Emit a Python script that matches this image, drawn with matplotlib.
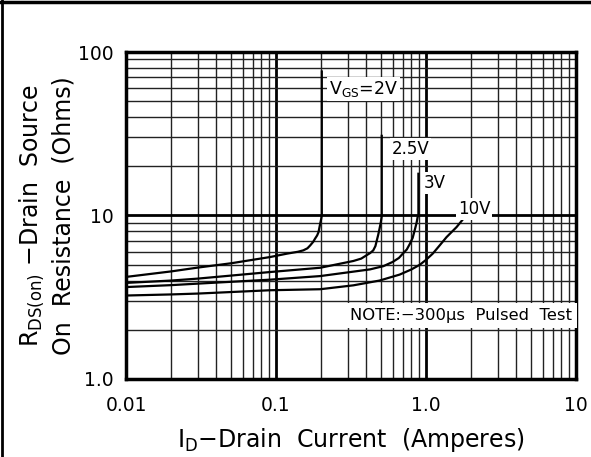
import numpy as np
import matplotlib
matplotlib.use('Agg')
import matplotlib.pyplot as plt
from matplotlib.lines import Line2D

# (drain current in A, R in ohms)
id_2v = [0.01, 0.02, 0.03, 0.05, 0.0912, 0.118, 0.14, 0.152, 0.162, 0.169, 0.177, 0.182, 0.188, 0.192, 0.197, 0.2, 0.202, 0.202]
r_2v = [4.21, 4.55, 4.8, 5.1, 5.57, 5.84, 6.0, 6.12, 6.3, 6.56, 6.9, 7.21, 7.55, 7.9, 8.9, 9.5, 10.0, 76.0]

id_25v = [0.01, 0.02, 0.03, 0.0912, 0.197, 0.328, 0.37, 0.40, 0.425, 0.445, 0.46, 0.47, 0.48, 0.49, 0.50, 0.507, 0.507]
r_25v = [3.87, 4.0, 4.11, 4.51, 4.79, 5.27, 5.45, 5.7, 5.9, 6.12, 6.5, 7.04, 7.6, 8.3, 9.1, 9.9, 30.7]

id_3v = [0.01, 0.02, 0.03, 0.0912, 0.197, 0.423, 0.52, 0.60, 0.66, 0.70, 0.745, 0.78, 0.815, 0.84, 0.865, 0.88, 0.89, 0.89]
r_3v = [3.65, 3.75, 3.83, 4.05, 4.26, 4.68, 4.9, 5.2, 5.5, 5.84, 6.2, 6.7, 7.3, 8.1, 9.0, 9.8, 10.0, 18.0]

id_10v = [0.01, 0.02, 0.03, 0.0912, 0.197, 0.328, 0.49, 0.667, 0.8, 0.91, 1.0, 1.11, 1.24, 1.37, 1.6, 1.85]
r_10v = [3.24, 3.29, 3.33, 3.49, 3.54, 3.74, 4.0, 4.35, 4.68, 5.0, 5.35, 5.85, 6.6, 7.37, 8.5, 10.0]

xticks = [0.01, 0.1, 1.0, 10]
xticklabels = ['0.01', '0.1', '1.0', '10']
yticks = [1, 10, 100]
yticklabels = ['1.0', '10', '100']

plt.rcParams['font.family'] = 'DejaVu Sans'

fig = plt.figure(figsize=(5.91, 4.57), dpi=100)
ax = fig.add_axes([0.2132, 0.1707, 0.7614, 0.7155])
ax.set_xscale('log')
ax.set_yscale('log')
ax.set_xlim(0.01, 10)
ax.set_ylim(1, 100)

ax.grid(which='major', color='black', linewidth=2.0, zorder=1)
ax.grid(which='minor', color='#222222', linewidth=1.0, zorder=1)
ax.set_axisbelow(True)
ax.tick_params(which='both', length=0, labelsize=13.5, pad=9)
ax.tick_params(axis='x', pad=12)
ax.set_xticks(xticks)
ax.set_xticklabels(xticklabels)
ax.set_yticks(yticks)
ax.set_yticklabels(yticklabels)
for s in ax.spines.values():
    s.set_linewidth(2.5)

for xs, ys in [(id_2v, r_2v), (id_25v, r_25v), (id_3v, r_3v), (id_10v, r_10v)]:
    ax.plot(xs, ys, color='black', linewidth=1.6, zorder=3, solid_joinstyle='round')

box = dict(facecolor='white', edgecolor='none', pad=1.5)
ax.text(0.225, 59.5, r'$\mathregular{V_{GS}}$=2V', fontsize=12.5, va='center', ha='left', bbox=box, zorder=4)
ax.text(0.59, 25.6, '2.5V', fontsize=12, va='center', ha='left', bbox=box, zorder=4)
ax.text(0.96, 15.9, '3V', fontsize=12, va='center', ha='left', bbox=box, zorder=4)
ax.text(1.63, 11.0, '10V', fontsize=12, va='center', ha='left', bbox=box, zorder=4)
ax.text(0.31, 2.45, 'NOTE:\u2212300\u00b5s  Pulsed  Test', fontsize=11.8, va='center', ha='left',
        bbox=dict(facecolor='white', edgecolor='none', pad=3.5), zorder=4)

ax.set_xlabel(r'$\mathregular{I_D}$' + '\u2212Drain  Current  (Amperes)', fontsize=17, labelpad=8)
ax.set_ylabel(r'$\mathregular{R_{DS(on)}}$ ' + '\u2212Drain  Source\nOn  Resistance  (Ohms)', fontsize=17,
              labelpad=2, linespacing=1.25)

# frame lines on the figure
fig.add_artist(Line2D([0, 1], [0.995, 0.995], transform=fig.transFigure, color='black', linewidth=2.5))
fig.add_artist(Line2D([0.003, 0.003], [0, 1], transform=fig.transFigure, color='black', linewidth=2.0))

fig.savefig('out.png', dpi=100)
